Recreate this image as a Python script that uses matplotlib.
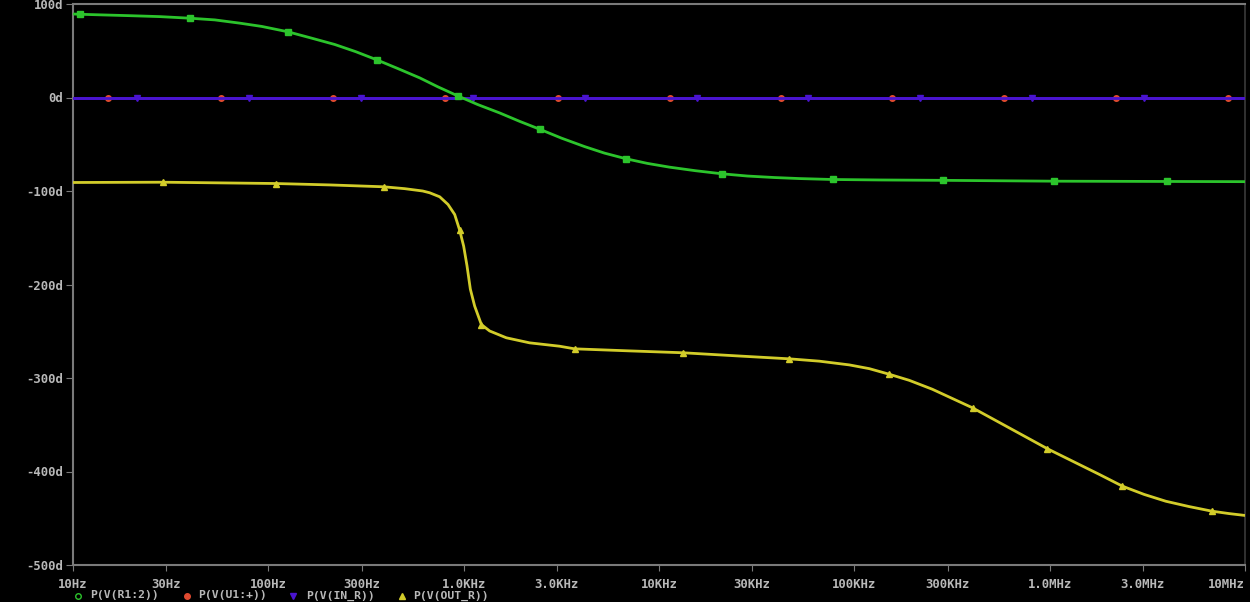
import matplotlib
matplotlib.use("Agg")
import matplotlib.pyplot as plt
from matplotlib.lines import Line2D

# ---- data ----
green_f = [10, 10.9, 19.6, 27.9, 39.7, 53.2, 71.5, 92.6, 125.8, 163.1, 218.8, 280.3, 359,
           459.7, 595.6, 736.3, 931, 1179, 1528, 1934, 2468, 3171, 4159, 5263, 6805, 8733,
           11320, 15370, 21000, 28360, 38990, 52330, 77600, 134300, 285000, 1.055e6,
           3.97e6, 1e7]
green_p = [89.3, 89.0, 87.5, 86.5, 84.8, 83.0, 79.5, 76.0, 70.3, 64.0, 56.7, 49.0, 40.3,
           31.0, 21.0, 11.5, 1.8, -7.5, -16.5, -25.5, -34.2, -43.5, -52.5, -59.5, -65.6,
           -70.5, -74.5, -78.3, -81.6, -84.0, -85.6, -86.7, -87.7, -88.2, -88.6, -89.5,
           -89.8, -90.0]
green_marks = [1, 4, 8, 12, 16, 20, 24, 28, 32, 34, 35, 36]

red_f = [10, 15.1, 57.1, 213.8, 800, 3027, 11320, 42360, 156400, 585000, 2.19e6, 8.19e6, 1e7]
red_p = [0, 0, 0, 0, 0, 0, 0, 0, 0, 0, 0, 0, 0]
red_marks = list(range(1, 12))

blue_f = [10, 21.2, 79.5, 297, 1112, 4159, 15560, 58200, 217700, 813000, 3.04e6, 1e7]
blue_p = [0, 0, 0, 0, 0, 0, 0, 0, 0, 0, 0, 0]
blue_marks = list(range(1, 11))

yellow_f = [10, 28.87, 109.2, 206.4, 389.8, 499.2, 617, 670, 753.9, 831.4, 899.5, 953.9,
            1000, 1040, 1082, 1138, 1232, 1358, 1654, 2176, 3097, 3697, 7066, 13230, 25810,
            46500, 66220, 94300, 119300, 151000, 191100, 250600, 402800, 597000, 974500,
            1.532e6, 1.791e6, 2.358e6, 3.044e6, 3.930e6, 5.172e6, 6.756e6, 8.285e6, 1e7]
yellow_p = [-90.9, -90.6, -92.0, -93.5, -95.5, -97.5, -100.0, -101.9, -106.2, -114.4,
            -125.1, -141.9, -159.0, -180.0, -205.0, -223.0, -242.8, -249.7, -257.0, -262.4,
            -266.0, -268.8, -271.0, -273.0, -276.5, -279.5, -282.0, -286.0, -290.0, -296.0,
            -302.5, -312.0, -331.9, -351.4, -375.7, -396.0, -403.0, -415.7, -424.5, -431.8,
            -437.5, -442.4, -445.0, -447.0]
yellow_marks = [1, 2, 4, 11, 16, 21, 23, 25, 29, 32, 34, 37, 41]

x_ticks = [10, 30, 100, 300, 1e3, 3e3, 1e4, 3e4, 1e5, 3e5, 1e6, 3e6, 1e7]
x_labels = ["10Hz", "30Hz", "100Hz", "300Hz", "1.0KHz", "3.0KHz", "10KHz", "30KHz",
            "100KHz", "300KHz", "1.0MHz", "3.0MHz", "10MHz"]
y_ticks = [100, 0, -100, -200, -300, -400, -500]
y_labels = ["100d", "0d", "-100d", "-200d", "-300d", "-400d", "-500d"]
legend_names = ["P(V(R1:2))", "P(V(U1:+))", "P(V(IN_R))", "P(V(OUT_R))"]

# ---- style ----
GREEN = "#2cc42c"
RED = "#e04a30"
BLUE = "#4a14d0"
YELLOW = "#d2cc2a"
TXT = "#b8b8b8"
AX = "#7a7a7a"
FONT = "DejaVu Sans Mono"
FS = 8.8

W, H = 1250, 602
fig = plt.figure(figsize=(W / 100, H / 100), dpi=100, facecolor="black")
ax = fig.add_axes([73 / W, 1 - 565 / H, (1245 - 73) / W, (565 - 4) / H])
ax.set_facecolor("black")
ax.set_xscale("log")
ax.set_xlim(10, 1e7)
ax.set_ylim(-500, 100)

ax.plot(red_f, red_p, color=BLUE, lw=2.0, marker="o", ms=4, mfc=RED, mec=RED,
        markevery=red_marks, zorder=2)
ax.plot(blue_f, blue_p, color=BLUE, lw=2.0, marker="v", ms=4.5, mfc=BLUE, mec=BLUE,
        markevery=blue_marks, zorder=3)
ax.plot(green_f, green_p, color=GREEN, lw=2.0, marker="s", ms=4, mfc=GREEN, mec=GREEN,
        markevery=green_marks, zorder=4)
ax.plot(yellow_f, yellow_p, color=YELLOW, lw=2.0, marker="^", ms=4, mfc=YELLOW, mec=YELLOW,
        markevery=yellow_marks, zorder=4)

ax.set_xticks(x_ticks)
ax.set_xticklabels(x_labels)
ax.minorticks_off()
ax.set_yticks(y_ticks)
ax.set_yticklabels(y_labels)
for lab in ax.get_xticklabels() + ax.get_yticklabels():
    lab.set_fontfamily(FONT)
    lab.set_fontweight("bold")
    lab.set_fontsize(FS)
    lab.set_color(TXT)
ax.get_xticklabels()[-1].set_horizontalalignment("right")
ax.tick_params(axis="x", direction="out", length=4, color=AX, pad=5)
ax.tick_params(axis="y", direction="out", length=5, color=AX, pad=2)
for s in ["left", "top", "bottom"]:
    ax.spines[s].set_color(AX)
    ax.spines[s].set_linewidth(1.5)
ax.spines["right"].set_color("#3a3a3a")
ax.spines["right"].set_linewidth(1.2)

# ---- legend at the bottom ----
leg_y = 1 - 595.5 / H
leg_items = [
    (78, 90, GREEN, "o", "none"),
    (187, 198, RED, "o", RED),
    (293, 306, BLUE, "v", BLUE),
    (402, 413, YELLOW, "^", YELLOW),
]
for (mx, tx, col, mk, fc), name in zip(leg_items, legend_names):
    fig.add_artist(Line2D([mx / W], [leg_y], transform=fig.transFigure, marker=mk,
                          ms=4, mec=col, mfc=fc, lw=0))
    fig.text(tx / W, leg_y, name, color=TXT, fontfamily=FONT, fontweight="bold",
             fontsize=8.2, va="center", ha="left")

fig.savefig("out.png", dpi=100, facecolor="black")
